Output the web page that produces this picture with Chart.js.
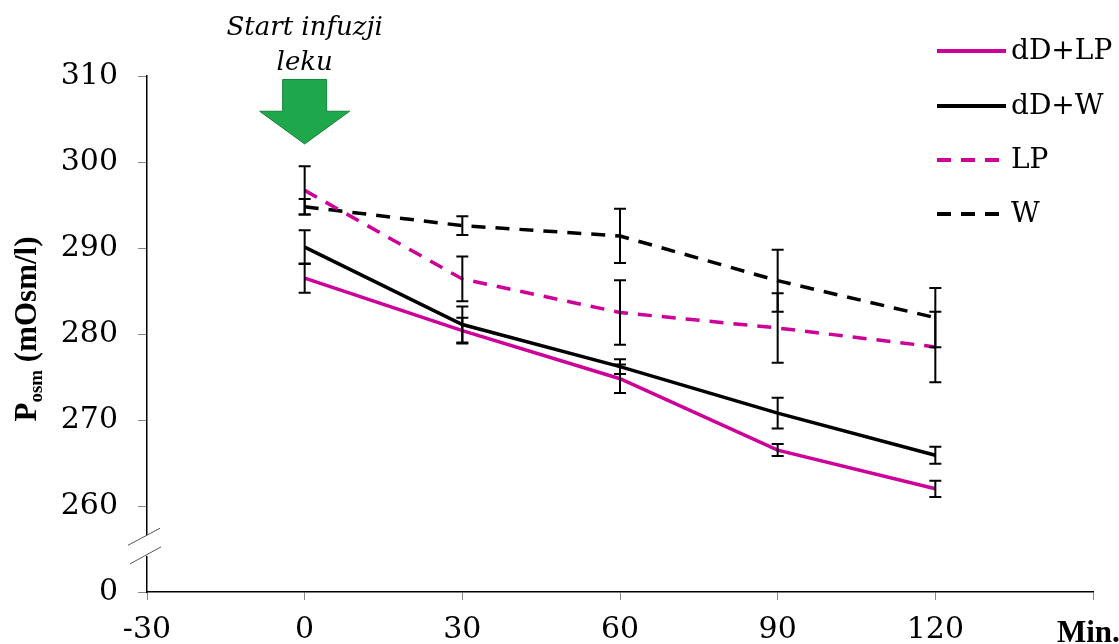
<!DOCTYPE html>
<html lang="pl">
<head>
  <meta charset="UTF-8" />
  <title>Posm po infuzji leku</title>
  <script src="https://cdn.jsdelivr.net/npm/chart.js"></script>
  <style>
    body {
      margin: 0;
      padding: 0;
      background: white;
    }
    #wrap {
      width: 1119px;
      height: 644px;
      position: relative;
    }
  </style>
</head>
<body>
  <div id="wrap">
    <canvas id="osmChart" width="1119" height="644"></canvas>
  </div>

  <script>
    // time points (min) and mean values with SD/SEM bars
    const timePoints = [0, 30, 60, 90, 120];
    const xTicks = [-30, 0, 30, 60, 90, 120, 150];
    const yTicks = [250, 260, 270, 280, 290, 300, 310];

    const ddLP = [286.5, 280.4, 274.8, 266.5, 262.0];
    const ddLPErr = [1.7, 1.5, 1.65, 0.7, 0.95];

    const ddW = [290.1, 281.1, 276.2, 270.8, 265.9];
    const ddWErr = [1.95, 2.1, 0.85, 1.8, 1.0];

    const lp = [296.7, 286.4, 282.5, 280.7, 278.5];
    const lpErr = [2.8, 2.6, 3.75, 4.05, 4.1];

    const w = [294.8, 292.6, 291.4, 286.2, 281.9];
    const wErr = [0.9, 1.1, 3.15, 3.6, 3.45];

    const seriesLabels = ["dD+LP", "dD+W", "LP", "W"];
    const magenta = "#cc0099";
    const tickFont = { family: "DejaVu Serif", size: 30 };

    function toPoints(values) {
      return values.map((v, i) => ({ x: timePoints[i], y: v }));
    }

    // y axis break: value 250 is displayed as "0"
    const axisBreak = {
      id: "axisBreak",
      afterDraw(chart) {
        const ctx = chart.ctx;
        const y = chart.scales.y;
        const x0 = y.right;
        const yTop = y.getPixelForValue(256.6);
        const yBot = y.getPixelForValue(254.2);
        ctx.save();
        ctx.fillStyle = "white";
        ctx.fillRect(x0 - 3, yTop, 6, yBot - yTop);
        ctx.strokeStyle = "#555";
        ctx.lineWidth = 1;
        ctx.beginPath();
        ctx.moveTo(x0 - 19, yTop + 10);
        ctx.lineTo(x0 + 13, yTop - 7);
        ctx.moveTo(x0 - 17, yBot + 8);
        ctx.lineTo(x0 + 14, yBot - 9);
        ctx.stroke();
        ctx.restore();
      }
    };

    // error bars from the data arrays
    const errorBars = {
      id: "errorBars",
      afterDatasetsDraw(chart) {
        const ctx = chart.ctx;
        const xs = chart.scales.x;
        const ys = chart.scales.y;
        const errs = [ddLPErr, ddWErr, lpErr, wErr];
        const means = [ddLP, ddW, lp, w];
        ctx.save();
        ctx.strokeStyle = "black";
        ctx.lineWidth = 2;
        means.forEach((arr, d) => {
          arr.forEach((v, i) => {
            const px = xs.getPixelForValue(timePoints[i]);
            const top = ys.getPixelForValue(v + errs[d][i]);
            const bot = ys.getPixelForValue(v - errs[d][i]);
            ctx.beginPath();
            ctx.moveTo(px, top);
            ctx.lineTo(px, bot);
            ctx.moveTo(px - 6, top);
            ctx.lineTo(px + 6, top);
            ctx.moveTo(px - 6, bot);
            ctx.lineTo(px + 6, bot);
            ctx.stroke();
          });
        });
        ctx.restore();
      }
    };

    // arrow, legend and axis titles
    const extras = {
      id: "extras",
      afterDraw(chart) {
        const ctx = chart.ctx;
        const xs = chart.scales.x;
        const ys = chart.scales.y;
        ctx.save();

        // green arrow at drug infusion start
        const ax = xs.getPixelForValue(0);
        const aTop = ys.getPixelForValue(309.6);
        const aMid = ys.getPixelForValue(305.9);
        const aTip = ys.getPixelForValue(302.1);
        ctx.fillStyle = "#1fa84b";
        ctx.strokeStyle = "#17803a";
        ctx.lineWidth = 1;
        ctx.beginPath();
        ctx.moveTo(ax - 22, aTop);
        ctx.lineTo(ax + 22, aTop);
        ctx.lineTo(ax + 22, aMid);
        ctx.lineTo(ax + 45, aMid);
        ctx.lineTo(ax, aTip);
        ctx.lineTo(ax - 45, aMid);
        ctx.lineTo(ax - 22, aMid);
        ctx.closePath();
        ctx.fill();
        ctx.stroke();

        ctx.fillStyle = "black";
        ctx.textAlign = "center";
        ctx.textBaseline = "alphabetic";
        ctx.font = "italic 26px 'DejaVu Serif'";
        ctx.fillText("Start infuzji", ax, 35);
        ctx.fillText("leku", ax, 70);

        // legend
        const rows = [51, 106, 160, 214];
        chart.data.datasets.forEach((ds, i) => {
          ctx.strokeStyle = ds.borderColor;
          ctx.lineWidth = 4;
          ctx.setLineDash(ds.borderDash || []);
          ctx.beginPath();
          ctx.moveTo(937, rows[i]);
          ctx.lineTo(1006, rows[i]);
          ctx.stroke();
          ctx.setLineDash([]);
          ctx.fillStyle = "black";
          ctx.textAlign = "left";
          ctx.textBaseline = "middle";
          ctx.font = "28px 'DejaVu Serif'";
          ctx.fillText(ds.label, 1011, rows[i] + 1);
        });

        // x axis unit
        ctx.font = "bold 31px 'Liberation Serif'";
        ctx.textAlign = "left";
        ctx.textBaseline = "alphabetic";
        ctx.fillText("Min.", 1057, 642);

        // y axis title with subscript
        ctx.translate(36, 329);
        ctx.rotate(-Math.PI / 2);
        const big = "bold 31px 'Liberation Serif'";
        const small = "bold 19px 'Liberation Serif'";
        ctx.font = big;
        const wP = ctx.measureText("P").width;
        const rest = " (mOsm/l)";
        const wR = ctx.measureText(rest).width;
        ctx.font = small;
        const wS = ctx.measureText("osm").width;
        let x = -(wP + wS + wR) / 2;
        ctx.font = big;
        ctx.fillText("P", x, 0);
        x += wP;
        ctx.font = small;
        ctx.fillText("osm", x, 6);
        x += wS;
        ctx.font = big;
        ctx.fillText(rest, x, 0);

        ctx.restore();
      }
    };

    const ctxOsm = document.getElementById("osmChart").getContext("2d");

    const osmChart = new Chart(ctxOsm, {
      type: "line",
      data: {
        datasets: [
          { label: seriesLabels[0], data: toPoints(ddLP), borderColor: magenta, borderWidth: 3.5 },
          { label: seriesLabels[1], data: toPoints(ddW), borderColor: "black", borderWidth: 3.5 },
          { label: seriesLabels[2], data: toPoints(lp), borderColor: magenta, borderWidth: 3.5, borderDash: [14, 10] },
          { label: seriesLabels[3], data: toPoints(w), borderColor: "black", borderWidth: 3.5, borderDash: [14, 10] }
        ]
      },
      options: {
        responsive: false,
        animation: false,
        layout: { padding: { top: 76, right: 26, left: 0, bottom: 0 } },
        elements: {
          point: { radius: 0, hoverRadius: 0 },
          line: { tension: 0, fill: false }
        },
        plugins: {
          legend: { display: false },
          tooltip: { enabled: false }
        },
        scales: {
          x: {
            type: "linear",
            min: -30,
            max: 150,
            afterBuildTicks: s => { s.ticks = xTicks.map(v => ({ value: v })); },
            afterFit: s => { s.height = 52; },
            ticks: {
              color: "black",
              font: tickFont,
              padding: 12,
              maxRotation: 0,
              callback: v => (v === 150 ? "" : v)
            },
            grid: { drawOnChartArea: false, tickLength: 8, color: "#888" },
            border: { color: "black", width: 1.5 }
          },
          y: {
            min: 250,
            max: 310,
            afterBuildTicks: s => { s.ticks = yTicks.map(v => ({ value: v })); },
            afterFit: s => { s.width = 147; },
            ticks: {
              color: "black",
              font: tickFont,
              padding: 20,
              callback: v => (v === 250 ? "0" : v)
            },
            grid: { drawOnChartArea: false, tickLength: 9, color: "#888" },
            border: { color: "black", width: 1.5 }
          }
        }
      },
      plugins: [errorBars, axisBreak, extras]
    });
  </script>
</body>
</html>
